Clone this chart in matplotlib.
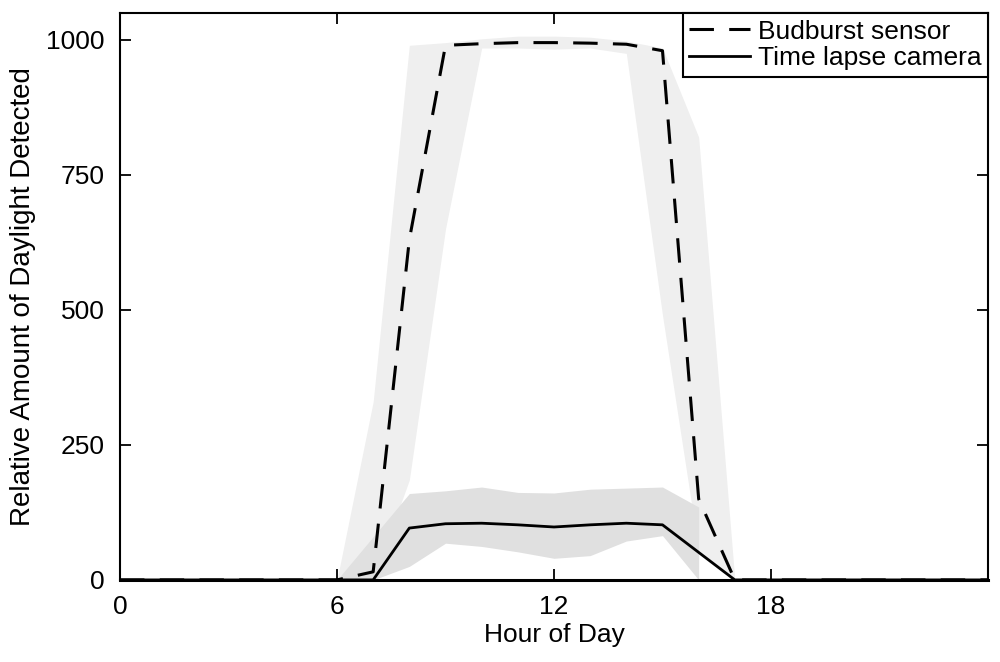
import numpy as np
import matplotlib
matplotlib.use("Agg")
import matplotlib.pyplot as plt

plt.rcParams['font.family'] = ['Liberation Sans', 'DejaVu Sans']

# hourly values
hours = list(range(25))

budburst_mean = [0, 0, 0, 0, 0, 0, 0, 15, 630, 990, 993, 995,
                 995, 994, 992, 980, 150, 0, 0, 0, 0, 0, 0, 0, 0]
budburst_low = [0, 0, 0, 0, 0, 0, 0, 0, 185, 650, 985, 985,
                983, 985, 975, 490, 55, 0, 0, 0, 0, 0, 0, 0, 0]
budburst_high = [0, 0, 0, 0, 0, 0, 0, 330, 990, 995, 1002, 1007,
                 1007, 1005, 998, 985, 820, 0, 0, 0, 0, 0, 0, 0, 0]

camera_mean = [0, 0, 0, 0, 0, 0, 0, 0, 96, 104, 105, 102,
               98, 102, 105, 102, 51, 0, 0, 0, 0, 0, 0, 0, 0]
# camera spread only drawn between 6 h and 16 h
camera_band_hours = [6, 7, 8, 9, 10, 11, 12, 13, 14, 15, 16]
camera_low = [0, 0, 25, 68, 62, 52, 40, 45, 72, 82, 0]
camera_high = [0, 80, 160, 165, 172, 162, 161, 168, 170, 172, 135]

x_ticks = [0, 6, 12, 18]
y_ticks = [0, 250, 500, 750, 1000]

fig = plt.figure(figsize=(10, 6.62), dpi=100)
ax = fig.add_axes([0.12, 0.124, 0.868, 0.8565])

ax.fill_between(hours, budburst_low, budburst_high, color='#efefef', lw=0, zorder=1)
ax.fill_between(camera_band_hours, camera_low, camera_high, color='#e0e0e0', lw=0, zorder=2)

ax.plot(hours, budburst_mean, color='black', lw=2.2, linestyle=(0, (8, 5)),
        label='Budburst sensor', zorder=4)
ax.plot(hours, camera_mean, color='black', lw=2.0, label='Time lapse camera', zorder=3)

ax.set_xlim(0, 24)
ax.set_ylim(0, 1050)
ax.set_xticks(x_ticks)
ax.set_yticks(y_ticks)
ax.tick_params(direction='in', length=8, width=1.3, top=True, right=True,
               labelsize=19, pad=11)
for s in ax.spines.values():
    s.set_linewidth(1.5)
    s.set_zorder(5)
ax.spines['bottom'].set_linewidth(2.2)

ax.set_xlabel('Hour of Day', fontsize=19, labelpad=3)
ax.set_ylabel('Relative Amount of Daylight Detected', fontsize=20, labelpad=7)

leg = ax.legend(loc='upper right', fontsize=19, frameon=True, fancybox=False,
                borderaxespad=0, handlelength=2.3, handletextpad=0.3,
                borderpad=0.25, labelspacing=0.1, framealpha=1)
leg.get_frame().set_edgecolor('black')
leg.get_frame().set_linewidth(1.5)
leg.set_zorder(6)

fig.savefig('out.png', dpi=100)
